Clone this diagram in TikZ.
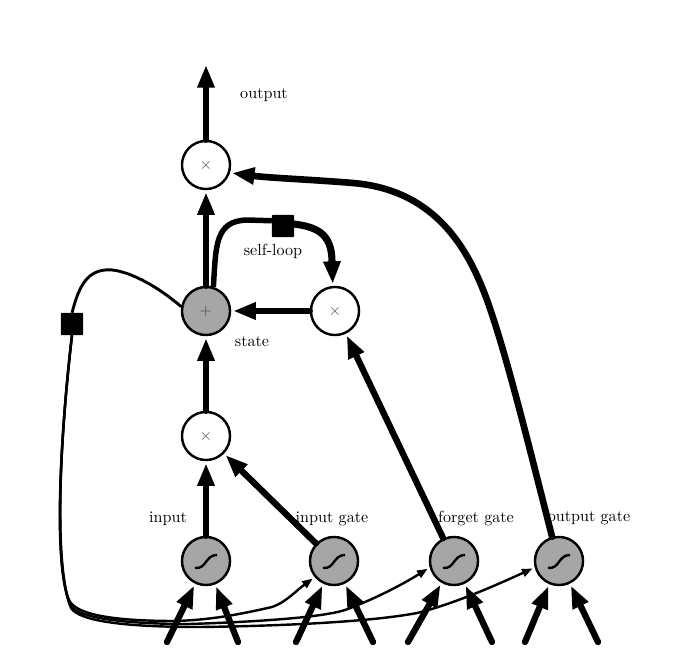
\documentclass[tikz,border=0pt]{standalone}
\usetikzlibrary{arrows.meta}
\begin{document}
\begin{tikzpicture}[x=0.62pt,y=-0.62pt,
	unit/.style={circle,draw,line width=1.5pt,minimum size=29.8pt,inner sep=0pt,text=black!70},
	gateunit/.style={unit,fill=black!35},
	delaybox/.style={rectangle,fill=black,draw=black,rounded corners=0.5pt,minimum size=13.5pt,inner sep=0pt},
	bigarrow/.style={line width=3.9pt,line cap=round,shorten >=1.2pt,-{Triangle[length=14pt,width=10pt]}},
	thinarrow/.style={line width=1.5pt,shorten >=1.5pt,-{Triangle[length=6.5pt,width=5pt]}}]
	\useasboundingbox (0,0) rectangle (693,657);
	% units
	\node[unit] (outmul) at (206,165) {$\times$};
	\node[gateunit] (state) at (206,311) {$+$};
	\node[unit] (loopmul) at (335,311) {$\times$};
	\node[unit] (inmul) at (206,436) {$\times$};
	\foreach \N/\X in {sigin/206,siginput/334,sigforget/454,sigoutput/559} {
		\node[gateunit] (\N) at (\X,561) {};
		\draw[line width=1.5pt,shift={(\N)}] (-11,7) .. controls (1,8) and (-1,-6) .. (11,-6);}
	\node[delaybox] (loopbox) at (283,226) {};
	\node[delaybox] (leakbox) at (72,324) {};
	\coordinate (outend) at (206,63);
	% labels
	\node at (264,95.5) {output};
	\node at (273,251) {self-loop};
	\node at (252,342) {state};
	\node at (168,518.5) {input};
	\node at (332,518.5) {input gate};
	\node at (476,518.5) {forget gate};
	\node at (589,518.5) {output gate};
	% straight connections
	\draw[bigarrow] (outmul) -- (outend);
	\draw[bigarrow] (state) -- (outmul);
	\draw[bigarrow] (loopmul) -- (state);
	\draw[bigarrow] (inmul) -- (state);
	\draw[bigarrow] (sigin) -- (inmul);
	\draw[bigarrow] (siginput) -- (inmul);
	\draw[bigarrow] (sigforget) -- (loopmul);
	% bottom inputs
	\foreach \A/\X/\N in {a/167/sigin,b/238/sigin,c/296/siginput,d/373/siginput,e/408/sigforget,f/492/sigforget,g/525/sigoutput,h/598/sigoutput} {
		\coordinate (in\A) at (\X,642);
		\draw[bigarrow] (in\A) -- (\N);}
	% curved connections
	\draw[line width=3.4pt] (state.73) .. controls (216,245) and (215,221) .. (247,220) -- (loopbox.155);
	\draw[bigarrow,line width=4.4pt] (loopbox.10) .. controls (315,227) and (332,232) .. (332,262) -- (loopmul.95);
	\draw[bigarrow,line width=4.1pt] (sigoutput.106) .. controls (525,430) and (505,350) .. (487,300) .. controls (468,248) and (435,190) .. (353,183) .. controls (310,179.5) and (270,178) .. (outmul.-18);
	\draw[line width=1.8pt] (state.170) .. controls (150,280) and (120,268) .. (105,270) .. controls (85,272) and (78,290) .. (leakbox.north);
	\draw[thinarrow] (leakbox.south) .. controls (62,420) and (52,560) .. (69,600) .. controls (76,616) and (120,621) .. (175,621) .. controls (215,620) and (250,612) .. (272,607) .. controls (285,603) and (297,590) .. (siginput.-140);
	\draw[thinarrow] (leakbox.south) .. controls (62,420) and (52,560) .. (70,605) .. controls (78,619) and (130,624) .. (190,624) .. controls (250,622) and (320,618) .. (345,610) .. controls (370,601) and (400,586) .. (sigforget.-165);
	\draw[thinarrow] (leakbox.south) .. controls (62,420) and (52,560) .. (71,608) .. controls (80,622) and (130,627) .. (200,627) .. controls (280,626) and (370,622) .. (417,613) .. controls (450,605) and (490,588) .. (sigoutput.-165);
\end{tikzpicture}
\end{document}
